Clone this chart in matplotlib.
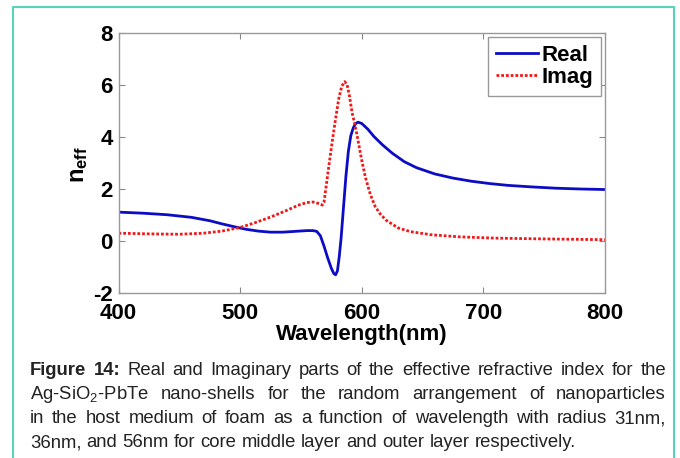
import numpy as np
import matplotlib
matplotlib.use("Agg")
import matplotlib.pyplot as plt
from matplotlib.lines import Line2D

plt.rcParams['font.family'] = ['Liberation Sans', 'DejaVu Sans']
plt.rcParams['mathtext.fontset'] = 'custom'
plt.rcParams['mathtext.rm'] = 'Liberation Sans'
plt.rcParams['mathtext.it'] = 'Liberation Sans'
plt.rcParams['mathtext.bf'] = 'Liberation Sans:bold'
plt.rcParams['axes.unicode_minus'] = False

# Real part of n_eff
wl_real = [400, 420, 440, 460, 475, 485, 495, 505, 515, 525, 535, 545, 555, 560,
           563, 566, 569, 572, 575, 577, 578.5, 580, 581.5, 583, 585, 587, 589,
           591, 593, 595, 597, 600, 605, 610, 617, 625, 635, 645, 660, 675, 690,
           705, 720, 740, 760, 780, 800]
n_real = [1.11, 1.07, 1.01, 0.91, 0.78, 0.66, 0.55, 0.45, 0.38, 0.34, 0.34, 0.37,
          0.40, 0.40, 0.37, 0.20, -0.20, -0.65, -1.05, -1.25, -1.30, -1.15, -0.60,
          0.10, 1.30, 2.50, 3.45, 4.05, 4.35, 4.52, 4.57, 4.52, 4.30, 4.02, 3.70,
          3.38, 3.05, 2.82, 2.58, 2.42, 2.30, 2.21, 2.14, 2.08, 2.03, 2.00, 1.98]

# Imaginary part of n_eff
wl_imag = [400, 430, 450, 470, 485, 500, 512, 525, 537, 548, 555, 560, 564, 567.5,
           569, 571, 573, 575.5, 578, 581, 583.5, 586, 588, 590, 592, 594, 596,
           598, 600, 603, 607, 611, 615, 620, 630, 640, 657, 680, 710, 750, 800]
n_imag = [0.30, 0.27, 0.26, 0.30, 0.38, 0.52, 0.70, 0.92, 1.15, 1.38, 1.48, 1.50,
          1.45, 1.38, 1.50, 2.20, 2.90, 3.75, 4.55, 5.45, 5.95, 6.13, 6.00, 5.55,
          4.95, 4.55, 4.10, 3.60, 3.10, 2.45, 1.80, 1.33, 1.05, 0.80, 0.50, 0.36,
          0.24, 0.16, 0.11, 0.08, 0.05]

x_ticks = [400, 500, 600, 700, 800]
y_ticks = [-2, 0, 2, 4, 6, 8]

W, H = 680, 458
def fx(px):
    return px / W
def fy(py):
    return 1 - py / H

fig = plt.figure(figsize=(6.8, 4.58), dpi=100)
fig.patch.set_facecolor('white')

# teal frame round the figure
teal = '#55d3bb'
fig.add_artist(Line2D([fx(13), fx(13), fx(674), fx(674)], [0, fy(7), fy(7), 0],
                      transform=fig.transFigure, color=teal, lw=1.5))

ax = fig.add_axes([fx(118.5), fy(293), fx(605) - fx(118.5), fy(33) - fy(293)])
ax.plot(wl_real, n_real, color='#0c0cc4', lw=2.0, label='Real')
ax.plot(wl_imag, n_imag, color='#f01818', lw=2.0, linestyle=(0, (1, 0.7)), label='Imag')

ax.set_xlim(400, 800)
ax.set_ylim(-2, 8)
ax.set_xticks(x_ticks)
ax.set_yticks(y_ticks)
ax.tick_params(direction='in', length=4, color='#888888', top=True, right=True,
               labelsize=16)
ax.tick_params(axis='x', pad=7)
ax.tick_params(axis='y', pad=4)
for lab in ax.get_xticklabels() + ax.get_yticklabels():
    lab.set_fontweight('bold')
for sp in ax.spines.values():
    sp.set_color('#999999')
    sp.set_linewidth(1.0)

ax.set_xlabel('Wavelength(nm)', fontsize=16, fontweight='bold', labelpad=0)
fig.text(fx(79), fy(165), r'$\mathbf{n}_{\mathbf{eff}}$', fontsize=17, rotation=90,
         ha='center', va='center')

leg = ax.legend(loc='upper right', bbox_to_anchor=(fx(601), fy(37)),
                bbox_transform=fig.transFigure, borderaxespad=0,
                prop={'size': 16, 'weight': 'bold'}, handlelength=1.9,
                handletextpad=0.15, labelspacing=0.05, borderpad=0.35,
                fancybox=False, framealpha=1)
leg.get_frame().set_edgecolor('#999999')
leg.get_frame().set_linewidth(1.0)

# caption, justified between x0 and x1
renderer = fig.canvas.get_renderer()
cap_size = 13.3
x0, x1 = 30, 666

def put_line(py, words, justify=True):
    texts = []
    for w, bold in words:
        t = fig.text(0, fy(py), w, fontsize=cap_size, va='baseline', ha='left',
                     fontweight='bold' if bold else 'normal', color='#222222')
        texts.append(t)
    widths = [t.get_window_extent(renderer).width for t in texts]
    if justify:
        gap = (x1 - x0 - sum(widths)) / (len(texts) - 1)
    else:
        gap = cap_size * 100 / 72 * 0.278
    x = x0
    for t, wd in zip(texts, widths):
        t.set_x(fx(x))
        x += wd + gap

line1 = [('Figure', True), ('14:', True)] + [(w, False) for w in
         'Real and Imaginary parts of the effective refractive index for the'.split()]
line2 = [('Ag-SiO$_2$-PbTe', False)] + [(w, False) for w in
         'nano-shells for the random arrangement of nanoparticles'.split()]
line3 = [(w, False) for w in
         'in the host medium of foam as a function of wavelength with radius 31nm,'.split()]
line4 = [(w, False) for w in
         '36nm, and 56nm for core middle layer and outer layer respectively.'.split()]

put_line(375, line1)
put_line(399, line2)
put_line(423, line3)
put_line(447, line4, justify=False)

fig.savefig('out.png', dpi=100)
